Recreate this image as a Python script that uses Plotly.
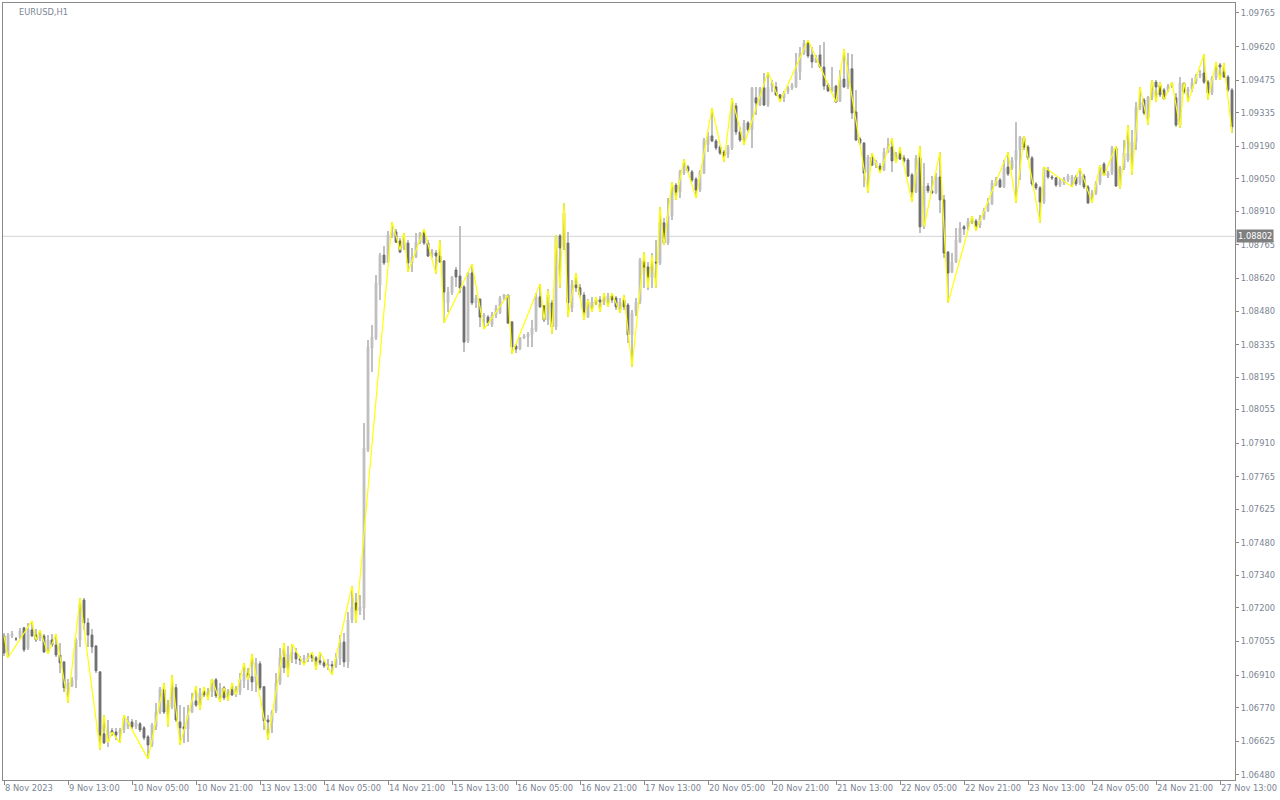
import plotly.graph_objects as go

symbol_title = "EURUSD,H1"

opens = [
1.07079,1.06989,1.07079,1.07066,1.07075,1.07114,1.07028,1.07105,1.07083,1.07066,
1.07079,1.07010,1.07062,1.07040,1.06997,1.06967,1.06851,1.06864,1.06890,1.07062,
1.07234,1.07135,1.07083,1.07036,1.06924,1.06657,1.06622,1.06670,1.06665,1.06661,
1.06674,1.06687,1.06708,1.06687,1.06700,1.06683,1.06644,1.06609,1.06687,1.06751,
1.06847,1.06751,1.06773,1.06856,1.06708,1.06687,1.06678,1.06751,1.06799,1.06781,
1.06838,1.06825,1.06838,1.06890,1.06821,1.06856,1.06821,1.06847,1.06825,1.06838,
1.06886,1.06916,1.06903,1.06881,1.06959,1.06860,1.06717,1.06708,1.06756,1.06877,
1.06985,1.06942,1.07002,1.07006,1.06980,1.06976,1.06980,1.06997,1.06985,1.06972,
1.06963,1.06950,1.06955,1.06950,1.06980,1.07053,1.06967,1.07148,1.07221,1.07187,
1.07200,1.07881,1.08321,1.08364,1.08592,1.08721,1.08691,1.08804,1.08821,1.08782,
1.08752,1.08773,1.08687,1.08713,1.08777,1.08817,1.08773,1.08721,1.08730,1.08717,
1.08696,1.08515,1.08558,1.08657,1.08631,1.08584,1.08351,1.08644,1.08515,1.08532,
1.08454,1.08454,1.08420,1.08463,1.08472,1.08536,1.08549,1.08433,1.08329,1.08316,
1.08364,1.08368,1.08377,1.08398,1.08541,1.08502,1.08441,1.08515,1.08411,1.08804,
1.08756,1.08773,1.08493,1.08592,1.08580,1.08549,1.08454,1.08493,1.08519,1.08528,
1.08519,1.08524,1.08545,1.08536,1.08485,1.08528,1.08506,1.08377,1.08472,1.08519,
1.08691,1.08670,1.08623,1.08691,1.08687,1.08860,1.08773,1.08890,1.09023,1.08993,
1.09075,1.09101,1.09080,1.09049,1.09002,1.09075,1.09196,1.09235,1.09213,1.09187,
1.09165,1.09153,1.09183,1.09364,1.09252,1.09217,1.09291,1.09261,1.09399,1.09368,
1.09442,1.09368,1.09450,1.09446,1.09412,1.09399,1.09425,1.09442,1.09446,1.09511,
1.09592,1.09636,1.09584,1.09554,1.09584,1.09532,1.09455,1.09429,1.09450,1.09386,
1.09480,1.09446,1.09524,1.09338,1.09222,1.09204,1.09075,1.09144,1.09109,1.09105,
1.09088,1.09165,1.09187,1.09127,1.09157,1.09140,1.09131,1.09067,1.08993,1.09140,
1.08843,1.09019,1.08998,1.08989,1.09058,1.08959,1.08734,1.08648,1.08691,1.08777,
1.08843,1.08843,1.08868,1.08868,1.08851,1.08881,1.08912,1.08942,1.09023,1.09045,
1.09015,1.09101,1.09097,1.09131,1.09174,1.09226,1.09187,1.09140,1.09028,1.09011,
1.08950,1.09088,1.09058,1.09054,1.09023,1.09032,1.09045,1.09023,1.09058,1.09032,
1.09062,1.09015,1.08972,1.08989,1.09032,1.09114,1.09062,1.09075,1.09183,1.09019,
1.09097,1.09131,1.09161,1.09209,1.09356,1.09390,1.09312,1.09399,1.09467,1.09455,
1.09433,1.09433,1.09450,1.09399,1.09282,1.09463,1.09425,1.09437,1.09467,1.09493,
1.09506,1.09467,1.09420,1.09485,1.09541,1.09511,1.09489,1.09433,
]

highs = [
1.07092,1.07092,1.07101,1.07075,1.07114,1.07118,1.07135,1.07144,1.07109,1.07105,
1.07088,1.07083,1.07088,1.07088,1.07049,1.06972,1.06894,1.06903,1.07071,1.07243,
1.07243,1.07157,1.07109,1.07040,1.06929,1.06738,1.06717,1.06683,1.06683,1.06683,
1.06738,1.06734,1.06721,1.06717,1.06708,1.06691,1.06652,1.06704,1.06790,1.06860,
1.06877,1.06803,1.06911,1.06873,1.06781,1.06773,1.06781,1.06834,1.06864,1.06856,
1.06860,1.06856,1.06894,1.06899,1.06877,1.06864,1.06851,1.06877,1.06864,1.06920,
1.06963,1.06942,1.07002,1.06985,1.06972,1.06864,1.06738,1.06760,1.06920,1.07028,
1.07049,1.07036,1.07045,1.07028,1.06993,1.06997,1.07006,1.07010,1.06993,1.07010,
1.06976,1.06980,1.06972,1.07006,1.07083,1.07092,1.07182,1.07295,1.07264,1.07255,
1.07997,1.08355,1.08419,1.08635,1.08730,1.08760,1.08826,1.08864,1.08834,1.08796,
1.08817,1.08786,1.08752,1.08817,1.08821,1.08834,1.08786,1.08747,1.08743,1.08786,
1.08700,1.08584,1.08631,1.08670,1.08847,1.08592,1.08648,1.08683,1.08549,1.08532,
1.08472,1.08463,1.08476,1.08506,1.08545,1.08553,1.08549,1.08437,1.08338,1.08368,
1.08381,1.08390,1.08441,1.08558,1.08597,1.08506,1.08575,1.08528,1.08808,1.08813,
1.08946,1.08821,1.08614,1.08644,1.08597,1.08562,1.08532,1.08541,1.08541,1.08545,
1.08558,1.08558,1.08558,1.08545,1.08536,1.08549,1.08515,1.08485,1.08536,1.08709,
1.08734,1.08691,1.08730,1.08786,1.08929,1.08881,1.08967,1.09036,1.09032,1.09088,
1.09135,1.09109,1.09088,1.09058,1.09088,1.09226,1.09252,1.09356,1.09222,1.09196,
1.09174,1.09196,1.09399,1.09377,1.09274,1.09304,1.09300,1.09446,1.09446,1.09446,
1.09506,1.09511,1.09476,1.09467,1.09416,1.09429,1.09450,1.09463,1.09592,1.09618,
1.09649,1.09649,1.09618,1.09584,1.09627,1.09640,1.09463,1.09532,1.09455,1.09519,
1.09610,1.09592,1.09588,1.09433,1.09230,1.09209,1.09153,1.09161,1.09131,1.09118,
1.09183,1.09226,1.09226,1.09165,1.09187,1.09153,1.09140,1.09075,1.09153,1.09192,
1.09118,1.09032,1.09062,1.09075,1.09165,1.08980,1.08739,1.08730,1.08838,1.08864,
1.08851,1.08881,1.08890,1.08877,1.08894,1.08925,1.08967,1.09045,1.09058,1.09054,
1.09131,1.09165,1.09144,1.09295,1.09235,1.09235,1.09196,1.09148,1.09036,1.09019,
1.09101,1.09101,1.09067,1.09058,1.09054,1.09058,1.09071,1.09067,1.09067,1.09097,
1.09071,1.09023,1.09002,1.09041,1.09109,1.09123,1.09084,1.09192,1.09192,1.09105,
1.09217,1.09282,1.09261,1.09381,1.09446,1.09399,1.09407,1.09476,1.09476,1.09467,
1.09442,1.09459,1.09467,1.09420,1.09489,1.09467,1.09446,1.09485,1.09502,1.09519,
1.09588,1.09476,1.09493,1.09554,1.09549,1.09549,1.09498,1.09442,
]

lows = [
1.06993,1.06985,1.07071,1.07058,1.07066,1.07010,1.07019,1.07075,1.07053,1.07058,
1.07006,1.07002,1.07032,1.06989,1.06920,1.06838,1.06790,1.06860,1.06856,1.07032,
1.07105,1.07032,1.07006,1.06920,1.06588,1.06614,1.06601,1.06648,1.06631,1.06618,
1.06661,1.06678,1.06678,1.06678,1.06665,1.06631,1.06549,1.06601,1.06674,1.06743,
1.06743,1.06687,1.06764,1.06708,1.06609,1.06618,1.06622,1.06747,1.06773,1.06760,
1.06817,1.06803,1.06817,1.06813,1.06794,1.06803,1.06799,1.06821,1.06817,1.06825,
1.06856,1.06847,1.06843,1.06838,1.06847,1.06674,1.06631,1.06661,1.06747,1.06868,
1.06920,1.06903,1.06963,1.06959,1.06955,1.06955,1.06967,1.06967,1.06933,1.06955,
1.06942,1.06933,1.06911,1.06942,1.06955,1.06946,1.06942,1.07135,1.07135,1.07169,
1.07148,1.07872,1.08217,1.08355,1.08528,1.08678,1.08687,1.08796,1.08773,1.08730,
1.08743,1.08648,1.08648,1.08709,1.08769,1.08764,1.08713,1.08709,1.08640,1.08687,
1.08428,1.08476,1.08549,1.08584,1.08558,1.08303,1.08342,1.08506,1.08493,1.08411,
1.08402,1.08415,1.08411,1.08450,1.08467,1.08528,1.08424,1.08295,1.08299,1.08312,
1.08359,1.08325,1.08325,1.08390,1.08493,1.08433,1.08420,1.08381,1.08398,1.08580,
1.08743,1.08454,1.08476,1.08562,1.08536,1.08441,1.08450,1.08476,1.08506,1.08476,
1.08506,1.08498,1.08515,1.08485,1.08472,1.08485,1.08342,1.08239,1.08459,1.08510,
1.08580,1.08571,1.08580,1.08580,1.08678,1.08764,1.08764,1.08873,1.08959,1.08967,
1.09067,1.09075,1.09036,1.08967,1.08993,1.09071,1.09165,1.09209,1.09174,1.09153,
1.09123,1.09140,1.09174,1.09239,1.09209,1.09196,1.09252,1.09183,1.09325,1.09364,
1.09364,1.09360,1.09425,1.09407,1.09381,1.09381,1.09416,1.09433,1.09442,1.09476,
1.09584,1.09571,1.09528,1.09549,1.09528,1.09433,1.09425,1.09425,1.09377,1.09381,
1.09442,1.09437,1.09308,1.09213,1.09196,1.09015,1.08989,1.09105,1.09097,1.09075,
1.09084,1.09161,1.09080,1.09118,1.09131,1.09118,1.09058,1.08950,1.08989,1.08817,
1.08834,1.08989,1.08985,1.08985,1.08903,1.08709,1.08515,1.08644,1.08687,1.08773,
1.08808,1.08830,1.08856,1.08826,1.08838,1.08873,1.08907,1.08937,1.09019,1.09011,
1.09011,1.09062,1.09088,1.08946,1.09045,1.09174,1.09131,1.09019,1.09002,1.08860,
1.08942,1.09049,1.09045,1.09015,1.09015,1.09023,1.09036,1.09015,1.09019,1.09023,
1.09006,1.08942,1.08946,1.08980,1.09023,1.09062,1.09054,1.09067,1.09015,1.09006,
1.09088,1.09123,1.09067,1.09174,1.09347,1.09325,1.09282,1.09390,1.09381,1.09403,
1.09390,1.09425,1.09442,1.09274,1.09269,1.09416,1.09381,1.09425,1.09459,1.09485,
1.09459,1.09390,1.09412,1.09476,1.09476,1.09485,1.09425,1.09248,
]

closes = [
1.07006,1.07083,1.07088,1.07066,1.07101,1.07019,1.07109,1.07079,1.07062,1.07079,
1.07010,1.07062,1.07040,1.06997,1.06963,1.06856,1.06877,1.06890,1.07062,1.07221,
1.07135,1.07083,1.07032,1.06929,1.06652,1.06618,1.06665,1.06661,1.06652,1.06674,
1.06726,1.06713,1.06687,1.06704,1.06674,1.06640,1.06609,1.06695,1.06751,1.06851,
1.06751,1.06781,1.06847,1.06717,1.06683,1.06678,1.06738,1.06794,1.06781,1.06834,
1.06825,1.06838,1.06890,1.06821,1.06856,1.06813,1.06843,1.06825,1.06851,1.06890,
1.06916,1.06899,1.06881,1.06963,1.06856,1.06713,1.06708,1.06751,1.06877,1.06985,
1.06942,1.07002,1.07010,1.06980,1.06976,1.06985,1.06993,1.06985,1.06972,1.06963,
1.06950,1.06959,1.06950,1.06980,1.07049,1.06967,1.07148,1.07204,1.07191,1.07204,
1.07890,1.08325,1.08368,1.08601,1.08721,1.08687,1.08808,1.08821,1.08777,1.08734,
1.08777,1.08687,1.08713,1.08777,1.08817,1.08773,1.08717,1.08734,1.08717,1.08691,
1.08562,1.08562,1.08627,1.08627,1.08579,1.08346,1.08644,1.08515,1.08536,1.08454,
1.08463,1.08428,1.08463,1.08493,1.08536,1.08549,1.08428,1.08325,1.08316,1.08364,
1.08372,1.08381,1.08407,1.08541,1.08498,1.08441,1.08549,1.08411,1.08800,1.08752,
1.08903,1.08515,1.08592,1.08580,1.08549,1.08476,1.08519,1.08519,1.08528,1.08519,
1.08532,1.08545,1.08528,1.08498,1.08519,1.08498,1.08377,1.08472,1.08519,1.08700,
1.08670,1.08627,1.08670,1.08687,1.08860,1.08773,1.08890,1.09002,1.08993,1.09080,
1.09118,1.09084,1.09045,1.09002,1.09080,1.09217,1.09235,1.09213,1.09183,1.09161,
1.09148,1.09187,1.09368,1.09252,1.09217,1.09291,1.09261,1.09442,1.09377,1.09442,
1.09368,1.09446,1.09463,1.09412,1.09399,1.09420,1.09442,1.09455,1.09511,1.09592,
1.09636,1.09580,1.09554,1.09571,1.09532,1.09450,1.09429,1.09446,1.09381,1.09476,
1.09446,1.09524,1.09334,1.09217,1.09204,1.09075,1.09144,1.09109,1.09123,1.09088,
1.09165,1.09187,1.09127,1.09157,1.09135,1.09127,1.09062,1.08993,1.09140,1.08843,
1.09019,1.08998,1.08989,1.09058,1.08959,1.08730,1.08644,1.08691,1.08786,1.08838,
1.08834,1.08868,1.08881,1.08847,1.08881,1.08916,1.08946,1.09032,1.09045,1.09015,
1.09097,1.09071,1.09131,1.09174,1.09230,1.09187,1.09140,1.09028,1.09011,1.08950,
1.09097,1.09058,1.09054,1.09023,1.09041,1.09049,1.09062,1.09058,1.09028,1.09062,
1.09015,1.08946,1.08989,1.09032,1.09101,1.09067,1.09075,1.09183,1.09019,1.09097,
1.09161,1.09161,1.09209,1.09360,1.09381,1.09334,1.09403,1.09467,1.09446,1.09412,
1.09394,1.09450,1.09463,1.09282,1.09463,1.09425,1.09437,1.09467,1.09493,1.09502,
1.09467,1.09420,1.09485,1.09519,1.09532,1.09489,1.09433,1.09274,
]

# zigzag (yellow line) vertices: bar index and price
zz_bars = [0,1,7,8,9,11,13,16,19,24,25,26,27,29,30,36,40,41,42,44,48,49,50,51,52,54,55,56,57,58,
           60,61,62,66,70,71,72,75,77,78,79,82,87,88,97,99,100,101,105,108,109,110,117,120,126,127,
           134,135,136,137,138,139,140,141,143,145,146,147,148,149,150,151,152,154,155,157,160,161,
           162,163,164,165,167,168,170,173,177,180,182,185,191,194,201,208,210,216,217,219,222,223,
           224,227,229,230,234,236,242,243,251,253,255,259,260,267,269,272,274,275,278,279,281,282,
           284,286,287,288,289,290,292,294,295,296,300,301,303,304,305,307]
zz_prices = [1.07079,1.06985,1.07144,1.07062,1.07105,1.07002,1.07088,1.06790,1.07243,1.06588,
             1.06738,1.06618,1.06665,1.06618,1.06738,1.06549,1.06877,1.06687,1.06911,1.06609,
             1.06864,1.06760,1.06860,1.06803,1.06894,1.06794,1.06856,1.06799,1.06877,1.06825,
             1.06963,1.06890,1.07002,1.06631,1.07049,1.06903,1.07045,1.06955,1.07010,1.06933,
             1.07010,1.06911,1.07295,1.07135,1.08864,1.08743,1.08817,1.08648,1.08834,1.08640,
             1.08786,1.08428,1.08683,1.08402,1.08549,1.08295,1.08597,1.08441,1.08571,1.08381,
             1.08808,1.08580,1.08946,1.08454,1.08644,1.08441,1.08528,1.08476,1.08541,1.08476,
             1.08558,1.08498,1.08558,1.08472,1.08549,1.08239,1.08734,1.08580,1.08721,1.08580,
             1.08929,1.08764,1.09036,1.08959,1.09135,1.08967,1.09356,1.09123,1.09399,1.09196,
             1.09511,1.09381,1.09649,1.09381,1.09610,1.08989,1.09161,1.09075,1.09226,1.09118,
             1.09187,1.08950,1.09192,1.08843,1.09165,1.08515,1.08890,1.08826,1.09165,1.08946,
             1.09235,1.08860,1.09101,1.09015,1.09097,1.08946,1.09109,1.09062,1.09192,1.09006,
             1.09282,1.09067,1.09446,1.09282,1.09476,1.09381,1.09467,1.09390,1.09467,1.09269,
             1.09467,1.09381,1.09588,1.09390,1.09554,1.09476,1.09549,1.09248]

x_tick_bars = [0,16,32,48,64,80,96,112,128,144,160,176,192,208,224,240,256,272,288,304]
x_tick_labels = ["8 Nov 2023","9 Nov 13:00","10 Nov 05:00","10 Nov 21:00","13 Nov 13:00",
                 "14 Nov 05:00","14 Nov 21:00","15 Nov 13:00","16 Nov 05:00","16 Nov 21:00",
                 "17 Nov 13:00","20 Nov 05:00","20 Nov 21:00","21 Nov 13:00","22 Nov 05:00",
                 "22 Nov 21:00","23 Nov 13:00","24 Nov 05:00","24 Nov 21:00","27 Nov 13:00"]
y_tick_values = [1.09765,1.09620,1.09475,1.09335,1.09190,1.09050,1.08910,1.08765,1.08620,1.08480,
                 1.08335,1.08195,1.08055,1.07910,1.07765,1.07625,1.07480,1.07340,1.07200,1.07055,
                 1.06910,1.06770,1.06625,1.06480]
hline_price = 1.08802

LIGHT = "#c0c0c0"
DARK = "#6e6e6e"
TXT = "#7c8594"
AXIS = "#8a8a8a"
FONT = "DejaVu Sans"
FS = 8.3

n = len(opens)
bars = list(range(n))
body_top = [max(o, c) for o, c in zip(opens, closes)]
body_bot = [min(o, c) for o, c in zip(opens, closes)]
wick_len = [h - l for h, l in zip(highs, lows)]

fig = go.Figure()
fig.add_trace(go.Bar(x=bars, y=wick_len, base=lows, width=0.25,
                     marker=dict(color=LIGHT, line=dict(width=0)),
                     hoverinfo="skip", showlegend=False))
fig.add_trace(go.Candlestick(x=bars, open=opens, high=body_top, low=body_bot, close=closes,
                             increasing=dict(line=dict(color=LIGHT, width=1), fillcolor=LIGHT),
                             decreasing=dict(line=dict(color=DARK, width=1), fillcolor=DARK),
                             whiskerwidth=0, hoverinfo="skip", showlegend=False))
fig.add_trace(go.Scatter(x=zz_bars, y=zz_prices, mode="lines",
                         line=dict(color="#ffff00", width=1.2),
                         hoverinfo="skip", showlegend=False))

fig.add_shape(type="line", xref="paper", x0=0, x1=1, yref="y", y0=hline_price, y1=hline_price,
              line=dict(color="#d4d4d4", width=1), layer="below")

fig.add_annotation(text=f"{hline_price:.5f}", xref="paper", x=1, xanchor="left", xshift=1,
                   yref="y", y=hline_price, yanchor="middle", showarrow=False,
                   bgcolor="#7f7f7f", borderpad=1, font=dict(family=FONT, size=FS, color="white"))
fig.add_annotation(text=symbol_title, xref="paper", x=0, xanchor="left", xshift=14,
                   yref="paper", y=1, yanchor="top", yshift=-2, showarrow=False,
                   font=dict(family=FONT, size=FS, color=TXT))

fig.update_layout(
    width=1280, height=800,
    margin=dict(l=3, r=45, t=3, b=20, autoexpand=False),
    paper_bgcolor="white", plot_bgcolor="white",
    boxgap=0.35,
    bargap=0,
    showlegend=False,
    xaxis=dict(range=[-0.25, n - 0.25], tickmode="array", tickvals=x_tick_bars, ticktext=x_tick_labels,
               ticks="outside", ticklen=4, tickcolor=AXIS, showgrid=False, zeroline=False,
               showline=True, mirror=True, linecolor=AXIS, linewidth=1,
               ticklabelposition="outside right", tickangle=0, automargin=False,
               tickfont=dict(family=FONT, size=FS, color=TXT),
               rangeslider=dict(visible=False), fixedrange=True),
    yaxis=dict(side="right", range=[1.06458, 1.09808], tickmode="array", tickvals=y_tick_values,
               ticktext=[f"{v:.5f}" for v in y_tick_values],
               ticks="outside", ticklen=3, tickcolor=AXIS, showgrid=False, zeroline=False,
               showline=True, mirror=True, linecolor=AXIS, linewidth=1, automargin=False,
               tickfont=dict(family=FONT, size=FS, color=TXT), fixedrange=True),
)

fig.write_html("out.html", config={"displayModeBar": False},
               post_script="document.body.style.margin='0px';document.body.style.overflow='hidden';")
